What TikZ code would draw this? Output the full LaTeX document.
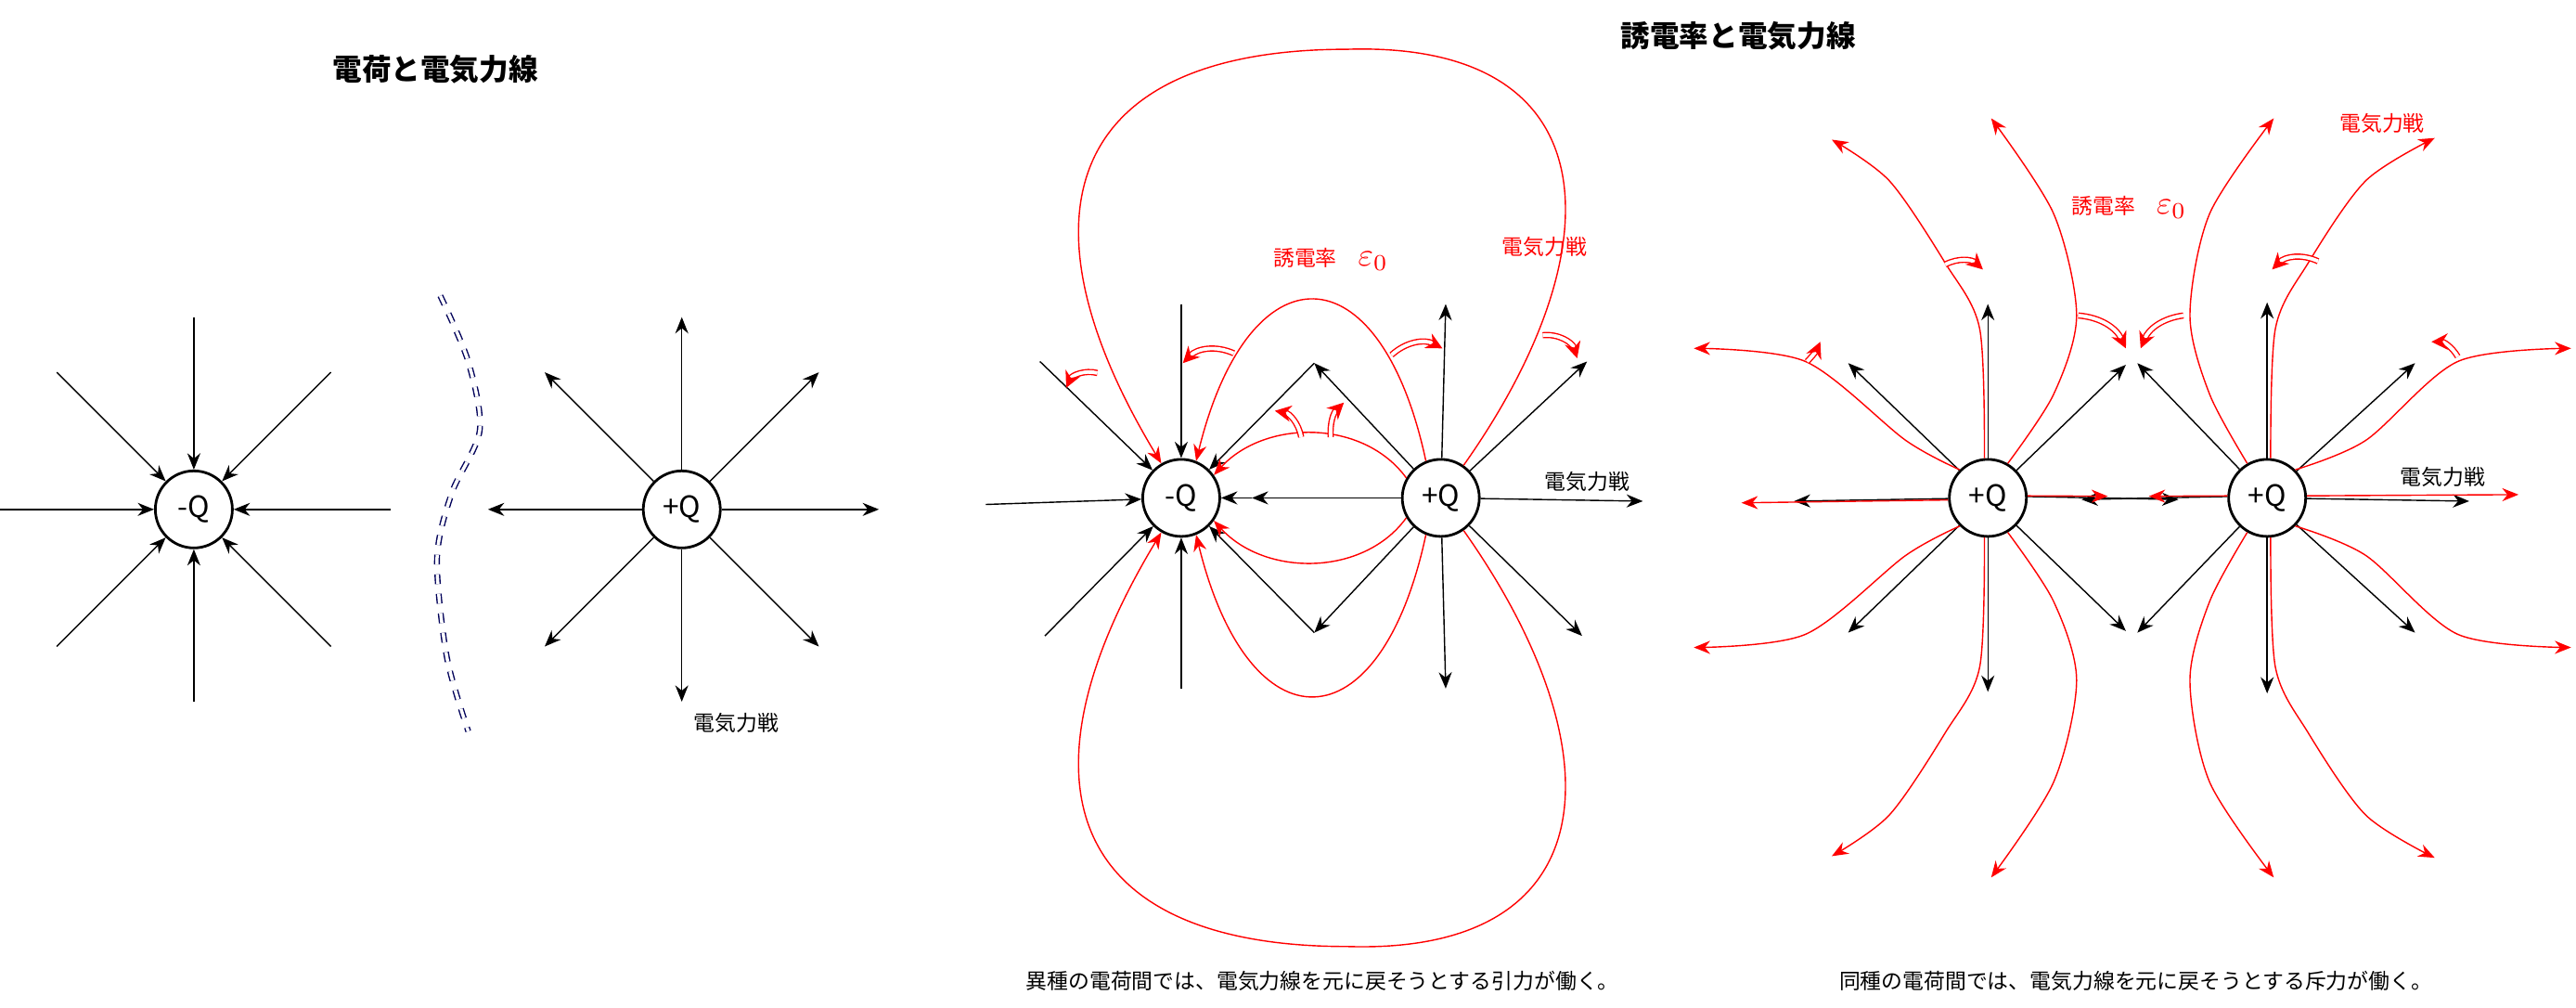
\documentclass[tikz,border=0pt]{standalone}
\usepackage{fontspec}
\setmainfont{Noto Sans CJK JP}
\usetikzlibrary{arrows.meta,positioning,calc}
\tikzset{
  charge/.style={circle,draw,thick,fill=white,minimum size=8.3mm,inner sep=0pt,font=\fontsize{9}{9}\selectfont},
  fline/.style={-{Stealth[length=5pt,width=4pt]}},
  rline/.style={red,-{Stealth[length=5pt,width=4pt]}},
  dbl/.style={red,double,double distance=1.1pt,-{Stealth[length=5pt,width=5pt]}},
  lab/.style={font=\fontsize{6.5}{7}\selectfont},
  ttl/.style={font=\fontsize{9}{10}\selectfont\bfseries},
}
\begin{document}
\begin{tikzpicture}[x=0.177mm,y=-0.177mm]
\useasboundingbox (0,0) rectangle (1568,613);
% titles
\node[ttl] (t1) at (265,42) {電荷と電気力線};
\node[ttl] (t2) at (1058,22) {誘電率と電気力線};

% ---- left panel
\node[charge] (n) at (118,310) {-Q};
\node[charge] (p) at (415,310) {+Q};
\foreach \a/\r in {0/120,45/118,90/117,135/118,180/118,225/118,270/117,315/118}{
  \coordinate (ni\a) at ($(n)+(\a:\r)$);
  \coordinate (po\a) at ($(p)+(\a:\r)$);
  \draw[fline] (ni\a) -- (n);
  \draw[fline] (p) -- (po\a);
}
\node[lab] (l1) at (448,440) {電気力戦};
\draw[blue!35!black,double,double distance=1pt,dashed] plot[smooth] coordinates
  {(268,180) (285,220) (292,262) (275,300) (266,340) (272,400) (285,445)};

% ---- middle panel
\node[charge] (m) at (719,303) {-Q};
\node[charge] (q) at (877,303) {+Q};
\coordinate (mW) at (600,307);  \coordinate (mN) at (719,185);
\coordinate (mS) at (719,419);  \coordinate (mNW) at (633,220);
\coordinate (mSW) at (636,387);
\foreach \c in {mW,mN,mS,mNW,mSW} \draw[fline] (\c) -- (m);
\coordinate (qN) at (880,185);  \coordinate (qS) at (880,419);
\coordinate (qE) at (1000,305); \coordinate (qNE) at (966,220);
\coordinate (qSE) at (963,387);
\foreach \c in {qN,qS,qE,qNE,qSE} \draw[fline] (q) -- (\c);
\coordinate (vU) at (800,221); \coordinate (vD) at (800,385);
\coordinate (hm) at (762,303);
\draw[fline] (q) -- (vU); \draw[fline] (vU) -- (m);
\draw[fline] (q) -- (vD); \draw[fline] (vD) -- (m);
\draw[fline] (q) -- (hm); \draw[fline] (hm) -- (m);
% red field lines
\draw[rline] (q.55) .. controls (985,150) and (980,25) .. (820,30)
  .. controls (650,30) and (615,130) .. (m.120);
\draw[rline] (q.-55) .. controls (985,456) and (980,581) .. (820,576)
  .. controls (650,576) and (615,476) .. (m.-120);
\draw[rline] (q.112) .. controls (840,150) and (760,150) .. (m.68);
\draw[rline] (q.-112) .. controls (840,456) and (760,456) .. (m.-68);
\draw[rline] (q.150) .. controls (830,255) and (770,255) .. (m.35);
\draw[rline] (q.-150) .. controls (830,351) and (770,351) .. (m.-35);
\draw[dbl] (668,227) to[bend right=40] (649,236);
\draw[dbl] (751,215) to[bend right=35] (720,221);
\draw[dbl] (847,216) to[bend left=35] (878,212);
\draw[dbl] (939,204) to[bend left=40] (960,218);
\draw[dbl] (792,266) to[bend right=35] (776,250);
\draw[dbl] (810,266) to[bend left=25] (818,245);
\node[lab,red] (e1) at (810,158) {誘電率\quad{\fontsize{10}{10}\selectfont$\varepsilon_0$}};
\node[lab,red] (r1) at (940,150) {電気力戦};
\node[lab] (l2) at (966,293) {電気力戦};
\node[lab] (c1) at (805,597) {異種の電荷間では、電気力線を元に戻そうとする引力が働く。};

% ---- right panel
\node[charge] (a) at (1210,303) {+Q};
\node[charge] (b) at (1380,303) {+Q};
\foreach \n/\x/\y in {aN/1210/185,aNW/1125/221,aNE/1294/222,aS/1210/421,aSW/1125/385,aSE/1294/384,aW/1092/305}
  {\coordinate (\n) at (\x,\y); \draw[fline] (a) -- (\n);}
\foreach \n/\x/\y in {bN/1380/184,bNW/1301/221,bNE/1470/221,bS/1380/422,bSW/1301/385,bSE/1470/385,bE/1503/305}
  {\coordinate (\n) at (\x,\y); \draw[fline] (b) -- (\n);}
\coordinate (aM) at (1326,304); \coordinate (bM) at (1267,304);
\draw[fline] (a.2) -- (aM); \draw[fline] (b.178) -- (bM);
\coordinate (raM) at (1283,302); \coordinate (rbM) at (1308,302);
\coordinate (raW) at (1060,306); \coordinate (rbE) at (1533,301);
\draw[rline] (a.3) -- (raM); \draw[rline] (b.177) -- (rbM);
\draw[rline] (a.183) -- (raW); \draw[rline] (b.3) -- (rbE);
\foreach \s/\t in {1/,-1/-}{
  \draw[rline] plot[smooth] coordinates {(a.\t135) (1160,303-\s*35) (1099,303-\s*83) (1031,303-\s*91)};
  \draw[rline] plot[smooth] coordinates {(a.\t95) (1205,303-\s*103) (1184,303-\s*143) (1150,303-\s*193) (1115,303-\s*218)};
  \draw[rline] plot[smooth] coordinates {(a.\t60) (1250,303-\s*63) (1264,303-\s*111) (1250,303-\s*173) (1212,303-\s*231)};
  \draw[rline] plot[smooth] coordinates {(b.\t120) (1345,303-\s*63) (1333,303-\s*111) (1345,303-\s*173) (1384,303-\s*231)};
  \draw[rline] plot[smooth] coordinates {(b.\t85) (1385,303-\s*103) (1405,303-\s*143) (1440,303-\s*193) (1482,303-\s*219)};
  \draw[rline] plot[smooth] coordinates {(b.\t45) (1440,303-\s*35) (1496,303-\s*83) (1565,303-\s*91)};
}
\draw[dbl] (1184,161) to[bend left=35] (1207,164);
\draw[dbl] (1265,192) to[bend left=30] (1294,212);
\draw[dbl] (1329,192) to[bend right=30] (1303,212);
\draw[dbl] (1411,159) to[bend right=35] (1383,164);
\draw[dbl] (1100,220) to[bend right=10] (1108,208);
\draw[dbl] (1496,217) to[bend right=30] (1480,208);
\node[lab,red] (e2) at (1296,126) {誘電率\quad{\fontsize{10}{10}\selectfont$\varepsilon_0$}};
\node[lab,red] (r2) at (1450,75) {電気力戦};
\node[lab] (l3) at (1487,290) {電気力戦};
\node[lab] (c2) at (1300,597) {同種の電荷間では、電気力線を元に戻そうとする斥力が働く。};
\end{tikzpicture}
\end{document}
